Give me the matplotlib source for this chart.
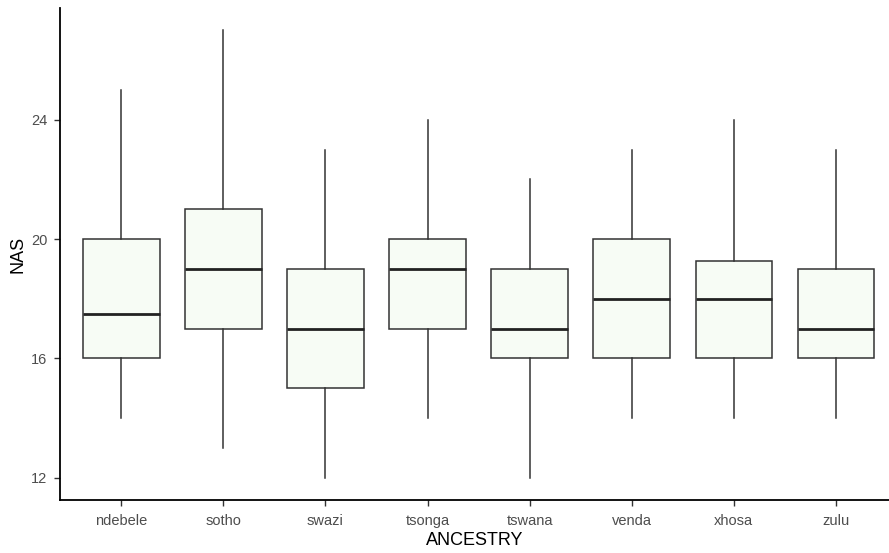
import matplotlib.pyplot as plt

plt.rcParams['font.family'] = ['Liberation Sans', 'DejaVu Sans']

# NAS por ascendencia: resumen de cinco números de cada grupo
ancestry = ["ndebele", "sotho", "swazi", "tsonga", "tswana", "venda", "xhosa", "zulu"]
whisker_lo = [14, 13, 12, 14, 12, 14, 14, 14]
q1 = [16, 17, 15, 17, 16, 16, 16, 16]
median = [17.5, 19, 17, 19, 17, 18, 18, 17]
q3 = [20, 21, 19, 20, 19, 20, 19.25, 19]
whisker_hi = [25, 27, 23, 24, 22, 23, 24, 23]

stats = []
for i, name in enumerate(ancestry):
    stats.append({
        "label": name,
        "whislo": whisker_lo[i],
        "q1": q1[i],
        "med": median[i],
        "q3": q3[i],
        "whishi": whisker_hi[i],
        "fliers": [],
    })

fig = plt.figure(figsize=(8.89, 5.53), dpi=100)
ax = fig.add_axes([0.0675, 0.0958, 0.9325, 0.8897])

line_col = "#333333"
ax.bxp(
    stats,
    positions=range(1, len(ancestry) + 1),
    widths=0.75,
    patch_artist=True,
    showcaps=False,
    boxprops=dict(facecolor="#F7FCF5", edgecolor=line_col, linewidth=1.1),
    whiskerprops=dict(color=line_col, linewidth=1.1),
    medianprops=dict(color="#222222", linewidth=2.0),
)

ax.set_xlim(0.4, 8.52)
ax.set_ylim(11.25, 27.75)
ax.set_yticks([12, 16, 20, 24])
ax.set_xticks(range(1, len(ancestry) + 1))
ax.set_xticklabels(ancestry)

for side in ["top", "right"]:
    ax.spines[side].set_visible(False)
for side in ["left", "bottom"]:
    ax.spines[side].set_linewidth(1.3)
    ax.spines[side].set_color("black")

ax.tick_params(axis="both", length=4, width=1.0, color="#333333",
               labelcolor="#4D4D4D", labelsize=10.5)
ax.tick_params(axis="x", pad=6)
ax.tick_params(axis="y", pad=5)

ax.set_xlabel("ANCESTRY", fontsize=13, color="black", labelpad=3)
ax.set_ylabel("NAS", fontsize=13, color="black", labelpad=3)

fig.savefig("out.png", dpi=100)
